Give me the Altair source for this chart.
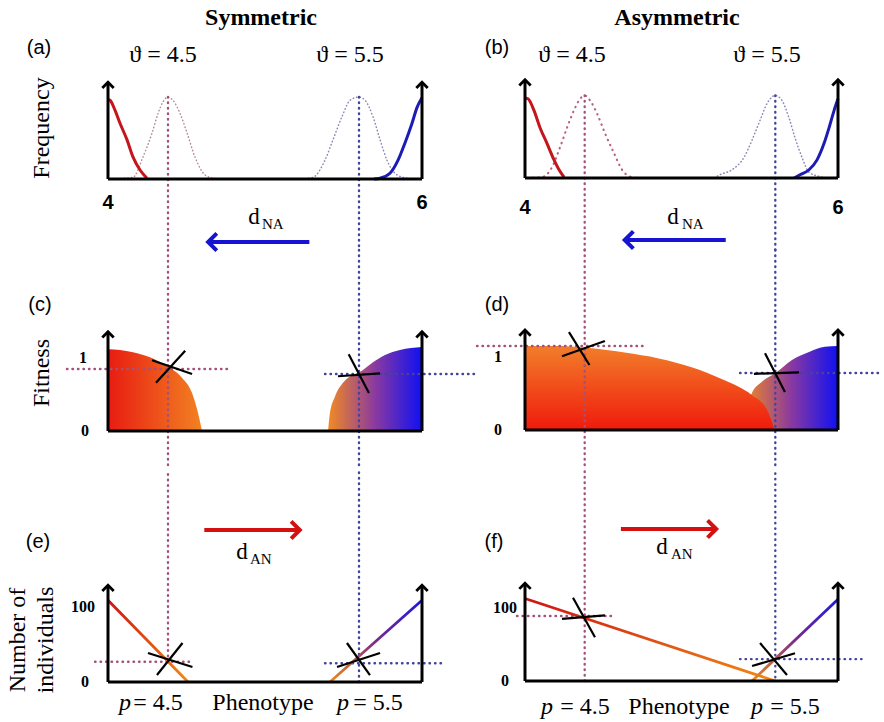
import altair as alt
import pandas as pd

# ---------------- data ----------------
PHENOTYPE_BREAKS = [4.0, 4.5, 5.5, 6.0]   # axis ends and the two optima
THETA = [4.5, 5.5]

# (a) symmetric - frequency distributions
a_red_x = [4.0, 4.017, 4.058, 4.10, 4.158, 4.208, 4.267, 4.325]
a_red_y = [0.97, 0.96, 0.84, 0.68, 0.48, 0.27, 0.11, 0.01]
a_blue_x = [5.62, 5.667, 5.746, 5.81, 5.865, 5.921, 5.96, 6.0]
a_blue_y = [0.0, 0.01, 0.07, 0.23, 0.44, 0.68, 0.87, 0.99]
a_opt_left_x = [4.02, 4.208, 4.292, 4.367, 4.417, 4.458, 4.5, 4.526, 4.563, 4.6, 4.641, 4.694, 4.736, 4.78]
a_opt_left_y = [0.0, 0.02, 0.27, 0.56, 0.80, 0.94, 1.0, 0.96, 0.80, 0.56, 0.27, 0.05, 0.01, 0.0]
a_opt_right_x = [5.2, 5.259, 5.322, 5.364, 5.411, 5.453, 5.5, 5.548, 5.611, 5.667, 5.722, 5.802, 5.881, 5.95]
a_opt_right_y = [0.0, 0.02, 0.23, 0.48, 0.76, 0.96, 1.0, 0.96, 0.76, 0.48, 0.23, 0.05, 0.01, 0.0]

# (b) asymmetric - frequency distributions
b_red_x = [4.0, 4.025, 4.075, 4.126, 4.184, 4.243, 4.285, 4.327]
b_red_y = [0.97, 0.96, 0.82, 0.61, 0.42, 0.22, 0.10, 0.01]
b_blue_x = [5.65, 5.697, 5.769, 5.833, 5.889, 5.929, 5.969, 6.0]
b_blue_y = [0.0, 0.04, 0.10, 0.22, 0.42, 0.61, 0.82, 0.96]
b_opt_left_x = [4.02, 4.142, 4.226, 4.293, 4.352, 4.41, 4.452, 4.5, 4.528, 4.565, 4.607, 4.654, 4.696, 4.748, 4.785]
b_opt_left_y = [0.0, 0.01, 0.13, 0.37, 0.61, 0.82, 0.94, 1.0, 0.94, 0.78, 0.54, 0.30, 0.10, 0.01, 0.0]
b_opt_right_x = [5.18, 5.21, 5.273, 5.336, 5.378, 5.42, 5.456, 5.5, 5.553, 5.609, 5.657, 5.713, 5.769, 5.848, 5.896]
b_opt_right_y = [0.0, 0.04, 0.10, 0.25, 0.46, 0.70, 0.90, 1.0, 0.94, 0.73, 0.49, 0.25, 0.07, 0.02, 0.0]

# (c) symmetric - fitness
c_left_x = [4.0, 4.1, 4.208, 4.35, 4.5, 4.573, 4.626, 4.657, 4.678]
c_left_y = [1.12, 1.11, 1.08, 1.01, 0.88, 0.73, 0.52, 0.25, 0.0]
c_right_x = [5.338, 5.348, 5.374, 5.416, 5.469, 5.5, 5.603, 5.706, 5.825, 6.0]
c_right_y = [0.0, 0.25, 0.47, 0.66, 0.77, 0.80, 0.93, 1.04, 1.11, 1.15]

# (d) asymmetric - fitness
d_left_x = [4.0, 4.25, 4.5, 4.71, 4.888, 5.061, 5.234, 5.376, 5.454, 5.497]
d_left_y = [1.15, 1.15, 1.13, 1.06, 0.98, 0.86, 0.68, 0.48, 0.29, 0.0]
d_right_x = [5.336, 5.341, 5.378, 5.43, 5.5, 5.633, 5.769, 5.896, 6.0]
d_right_y = [0.0, 0.23, 0.51, 0.66, 0.78, 0.96, 1.07, 1.14, 1.15]

# (e) symmetric - number of individuals
e_left_x = [4.0, 4.605]
e_left_y = [109, 0]
e_right_x = [5.348, 6.0]
e_right_y = [0, 109]

# (f) asymmetric - number of individuals
f_left_x = [4.0, 5.5]
f_left_y = [113, 0]
f_right_x = [5.378, 6.0]
f_right_y = [0, 112]

# cross marks: (x1, y1, x2, y2) for the two strokes of each "X"
c_cross = [(4.367, 0.97, 4.626, 0.78), (4.59, 1.10, 4.40, 0.66),
           (5.39, 0.75, 5.667, 0.79), (5.446, 1.05, 5.579, 0.52)]
d_cross = [(4.31, 1.01, 4.606, 1.22), (4.368, 1.34, 4.525, 0.89),
           (5.388, 0.77, 5.689, 0.79), (5.446, 1.05, 5.577, 0.52)]
e_cross = [(4.333, 38.7, 4.628, 20.0), (4.576, 52.0, 4.408, 9.3),
           (5.385, 20.0, 5.667, 38.7), (5.437, 52.0, 5.587, 9.3)]
f_cross = [(4.31, 85.0, 4.606, 90.0), (4.402, 114.0, 4.554, 60.0),
           (5.378, 20.5, 5.657, 38.0), (5.42, 52.0, 5.593, 8.2)]

# horizontal dotted guide lines: (x_start, x_end, level)
c_levels = [(3.658, 4.825, 0.85), (5.322, 6.444, 0.78)]
d_levels = [(3.598, 4.827, 1.15), (5.315, 6.335, 0.78)]
e_levels = [(3.892, 4.631, 27.0), (5.322, 6.19, 25.0)]
f_levels = [(3.933, 4.659, 89.0), (5.315, 6.207, 30.0)]

# tops of the arrowed axes (in each panel's units)
axis_top = {"a": 1.18, "b": 1.19, "c": 1.36, "d": 1.37, "e": 129, "f": 134}

# migration arrows (start, tip) in phenotype units
d_NA_arrow = (5.24, 4.71)
d_AN_arrow = (4.69, 5.19)

# ---------------- styling / layout ----------------
CELL_W = 442
ROW_H = [250, 220, 252]
X_RANGE = {0: [108, 168, 359, 422], 1: [83, 142.7, 333.3, 396]}
Y_SCALE = {
    (0, 0): ([0, 1], [179, 97]), (0, 1): ([0, 1], [178, 95.5]),
    (1, 0): ([0, 1], [181, 108]), (1, 1): ([0, 1], [180, 107]),
    (2, 0): ([0, 100], [212, 137]), (2, 1): ([0, 100], [211, 138]),
}
RED = "#c4161c"
BLUE = "#1c1cb4"
TH_L = "#a4527a"
TH_R = "#44449c"
SERIF = "Liberation Serif"
SANS = "Liberation Sans"
DOT = dict(strokeDash=[0.5, 5], strokeCap="round", strokeWidth=2.4)


def grad(stops, x1=0, y1=0, x2=1, y2=0):
    return alt.LinearGradient(
        gradient="linear",
        stops=[alt.GradientStop(color=c, offset=o) for o, c in stops],
        x1=x1, y1=y1, x2=x2, y2=y2)


G_RED_ORANGE = grad([(0, "#e81c12"), (1, "#f28222")])
G_ORANGE_BLUE = grad([(0, "#f28a22"), (0.5, "#8a3aa0"), (1, "#1010f2")])
G_ORANGE_RED_V = grad([(0, "#f27e2a"), (1, "#f01a0c")], x1=0, y1=0, x2=0, y2=1)
G_LINE_L = grad([(0, "#d01212"), (1, "#f08a14")], x1=0, y1=0, x2=1, y2=1)
G_LINE_R = grad([(0, "#f08a14"), (0.5, "#7a2a8a"), (1, "#1a1ae0")], x1=0, y1=1, x2=1, y2=0)


class Panel:
    def __init__(self, row, col):
        self.row, self.col = row, col
        self.h = ROW_H[row]
        self.xs = alt.Scale(domain=PHENOTYPE_BREAKS, range=X_RANGE[col], nice=False)
        dom, rng = Y_SCALE[(row, col)]
        self.ys = alt.Scale(domain=dom, range=rng, nice=False)
        self.layers = []

    def X(self, f="x"):
        return alt.X(f"{f}:Q", scale=self.xs, axis=None)

    def Y(self, f="y"):
        return alt.Y(f"{f}:Q", scale=self.ys, axis=None)

    def line(self, xv, yv, interp="monotone", **mk):
        df = pd.DataFrame({"x": xv, "y": yv})
        self.layers.append(alt.Chart(df).mark_line(interpolate=interp, **mk)
                           .encode(x=self.X(), y=self.Y()))

    def area(self, xv, yv, fill):
        df = pd.DataFrame({"x": xv, "y": yv})
        self.layers.append(alt.Chart(df).mark_area(interpolate="monotone", color=fill)
                           .encode(x=self.X(), y=self.Y()))

    def seg(self, x1, y1, x2, y2, **mk):
        df = pd.DataFrame({"x": [x1], "y": [y1], "x2": [x2], "y2": [y2]})
        self.layers.append(alt.Chart(df).mark_rule(**mk).encode(
            x=self.X(), y=self.Y(), x2=alt.X2("x2:Q"), y2=alt.Y2("y2:Q")))

    def vline(self, x, y_from=None, y_to=None, **mk):
        # vertical guide: from a data value (or the cell's top) down to a data value (or the cell's bottom)
        df = pd.DataFrame({"x": [x], "yv": [y_from if y_from is not None else y_to]})
        if y_from is not None:
            enc = dict(x=self.X(), y=self.Y("yv"), y2=alt.value(self.h))
        elif y_to is not None:
            enc = dict(x=self.X(), y=self.Y("yv"), y2=alt.value(0))
        else:
            enc = dict(x=self.X(), y=alt.value(0), y2=alt.value(self.h))
        self.layers.append(alt.Chart(df).mark_rule(**mk).encode(**enc))

    def cross(self, segs):
        for s in segs:
            self.seg(*s, color="black", strokeWidth=2.2)

    def levels(self, levs):
        for (xa, xb, lv), colr in zip(levs, [TH_L, TH_R]):
            df = pd.DataFrame({"x": [xa], "x2": [xb], "y": [lv]})
            self.layers.append(alt.Chart(df).mark_rule(color=colr, **DOT)
                               .encode(x=self.X(), x2=alt.X2("x2:Q"), y=self.Y()))

    def axes(self, top):
        self.seg(4.0, 0, 6.0, 0, color="black", strokeWidth=3)
        for xe in (4.0, 6.0):
            self.seg(xe, 0, xe, top, color="black", strokeWidth=3)
        df = pd.DataFrame({"x": [4.0, 6.0], "y": [top, top]})
        self.layers.append(alt.Chart(df).mark_point(
            shape="M-1,1L0,0L1,1", size=130, filled=False, color="black",
            strokeWidth=2.8, opacity=1).encode(x=self.X(), y=self.Y()))

    def text(self, t, x, y, size, font=SERIF, weight="normal", style="normal",
             angle=0, align="center", color="black"):
        df = pd.DataFrame({"t": [t], "xv": [x if not isinstance(x, tuple) else x[1]],
                           "yv": [y if not isinstance(y, tuple) else y[1]]})
        enc = dict(text="t:N")
        enc["x"] = self.X("xv") if isinstance(x, tuple) else alt.value(x)
        enc["y"] = self.Y("yv") if isinstance(y, tuple) else alt.value(y)
        self.layers.append(alt.Chart(df).mark_text(
            fontSize=size, font=font, fontWeight=weight, fontStyle=style, angle=angle,
            align=align, baseline="middle", color=color).encode(**enc))

    def arrow(self, start, tip, ypix, colr, shape):
        df = pd.DataFrame({"x": [start], "x2": [tip]})
        self.layers.append(alt.Chart(df).mark_rule(color=colr, strokeWidth=4)
                           .encode(x=self.X(), x2=alt.X2("x2:Q"), y=alt.value(ypix)))
        df2 = pd.DataFrame({"x": [tip]})
        self.layers.append(alt.Chart(df2).mark_point(
            shape=shape, size=300, filled=False, color=colr, strokeWidth=4, opacity=1)
            .encode(x=self.X(), y=alt.value(ypix)))

    def chart(self):
        return alt.layer(*self.layers).properties(width=CELL_W, height=self.h)


LEFT_HEAD = "M1,-1L0,0L1,1"
RIGHT_HEAD = "M-1,-1L0,0L-1,1"

# ---------- (a) ----------
pa = Panel(0, 0)
pa.text("Symmetric", 261, 18, 24, weight="bold")
pa.text("(a)", 39, 48, 20, font=SANS)
pa.text("\u03d1 = 4.5", 163, 55, 24)
pa.text("\u03d1 = 5.5", 350, 55, 24)
pa.text("Frequency", 42, 128, 24, angle=270)
pa.line(a_opt_left_x, a_opt_left_y, color="#b88c98", strokeWidth=1.5, strokeDash=[0.5, 3], strokeCap="round")
pa.line(a_opt_right_x, a_opt_right_y, color="#8a8ab4", strokeWidth=1.5, strokeDash=[0.5, 3], strokeCap="round")
pa.vline(THETA[0], y_from=1.0, color=TH_L, **DOT)
pa.vline(THETA[1], y_from=1.0, color=TH_R, **DOT)
pa.line(a_red_x, a_red_y, color=RED, strokeWidth=3)
pa.line(a_blue_x, a_blue_y, color=BLUE, strokeWidth=3)
pa.axes(axis_top["a"])
pa.text("4", ("x", 4.0), 203, 20, font=SANS, weight="bold")
pa.text("6", ("x", 6.0), 203, 20, font=SANS, weight="bold")
pa.text("d", 254, 217, 23)
pa.text("NA", 262, 224, 15, align="left")
pa.arrow(d_NA_arrow[0], d_NA_arrow[1], 242, "#1414d2", LEFT_HEAD)

# ---------- (b) ----------
pb = Panel(0, 1)
pb.text("Asymmetric", 235, 18, 24, weight="bold")
pb.text("(b)", 55, 48, 20, font=SANS)
pb.text("\u03d1 = 4.5", 130, 55, 24)
pb.text("\u03d1 = 5.5", 325, 55, 24)
pb.line(b_opt_left_x, b_opt_left_y, color="#b8607e", strokeWidth=2.1, strokeDash=[0.5, 5], strokeCap="round")
pb.line(b_opt_right_x, b_opt_right_y, color="#8a8ab4", strokeWidth=1.5, strokeDash=[0.5, 3], strokeCap="round")
pb.vline(THETA[0], y_from=1.0, color=TH_L, **DOT)
pb.vline(THETA[1], y_from=1.0, color=TH_R, **DOT)
pb.line(b_red_x, b_red_y, color=RED, strokeWidth=3)
pb.line(b_blue_x, b_blue_y, color=BLUE, strokeWidth=3)
pb.axes(axis_top["b"])
pb.text("4", ("x", 4.0), 208, 20, font=SANS, weight="bold")
pb.text("6", ("x", 6.0), 208, 20, font=SANS, weight="bold")
pb.text("d", 231, 217, 23)
pb.text("NA", 240, 224, 15, align="left")
pb.arrow(d_NA_arrow[0], d_NA_arrow[1], 240, "#1414d2", LEFT_HEAD)

# ---------- (c) ----------
pc = Panel(1, 0)
pc.text("(c)", 40, 55, 20, font=SANS)
pc.text("Fitness", 42, 123, 24, angle=270)
pc.area(c_left_x, c_left_y, G_RED_ORANGE)
pc.area(c_right_x, c_right_y, G_ORANGE_BLUE)
pc.vline(THETA[0], color=TH_L, **DOT)
pc.vline(THETA[1], color=TH_R, **DOT)
pc.levels(c_levels)
pc.cross(c_cross)
pc.axes(axis_top["c"])
pc.text("1", 83, ("y", 1.0), 16, weight="bold")
pc.text("0", 85, ("y", 0.0), 16, weight="bold")

# ---------- (d) ----------
pd_ = Panel(1, 1)
pd_.text("(d)", 55, 55, 20, font=SANS)
pd_.area(d_right_x, d_right_y, G_ORANGE_BLUE)
pd_.area(d_left_x, d_left_y, G_ORANGE_RED_V)
pd_.vline(THETA[0], color=TH_L, **DOT)
pd_.vline(THETA[1], color=TH_R, **DOT)
pd_.levels(d_levels)
pd_.cross(d_cross)
pd_.axes(axis_top["d"])
pd_.text("1", 56, ("y", 1.0), 16, weight="bold")
pd_.text("0", 56, ("y", 0.0), 16, weight="bold")

# ---------- (e) ----------
pe = Panel(2, 0)
pe.arrow(d_AN_arrow[0], d_AN_arrow[1], 60, "#d41010", RIGHT_HEAD)
pe.text("d", 242, 82, 23)
pe.text("AN", 250, 89, 15, align="left")
pe.text("(e)", 38, 72, 20, font=SANS)
pe.text("Number of", 18, 170, 24, angle=270)
pe.text("individuals", 46, 170, 24, angle=270)
pe.vline(THETA[0], y_to=27.0, color=TH_L, **DOT)
pe.vline(THETA[1], y_to=0.0, color=TH_R, **DOT)
pe.levels(e_levels)
pe.line(e_left_x, e_left_y, interp="linear", stroke=G_LINE_L, strokeWidth=2.8)
pe.line(e_right_x, e_right_y, interp="linear", stroke=G_LINE_R, strokeWidth=2.8)
pe.cross(e_cross)
pe.axes(axis_top["e"])
pe.text("100", 83, ("y", 100), 16, weight="bold")
pe.text("0", 85, ("y", 0), 16, weight="bold")
pe.text("p", 125, 233, 24, style="italic")
pe.text("= 4.5", 158, 233, 24)
pe.text("Phenotype", 263, 233, 24)
pe.text("p", 343, 233, 24, style="italic")
pe.text("= 5.5", 378, 233, 24)

# ---------- (f) ----------
pf = Panel(2, 1)
pf.arrow(d_AN_arrow[0], d_AN_arrow[1], 59, "#d41010", RIGHT_HEAD)
pf.text("d", 220, 77, 23)
pf.text("AN", 229, 84, 15, align="left")
pf.text("(f)", 52, 72, 20, font=SANS)
pf.vline(THETA[0], y_to=0.0, color=TH_L, **DOT)
pf.vline(THETA[1], y_to=5.0, color=TH_R, **DOT)
pf.levels(f_levels)
pf.line(f_left_x, f_left_y, interp="linear", stroke=G_LINE_L, strokeWidth=2.8)
pf.line(f_right_x, f_right_y, interp="linear", stroke=G_LINE_R, strokeWidth=2.8)
pf.cross(f_cross)
pf.axes(axis_top["f"])
pf.text("100", 63, ("y", 100), 16, weight="bold")
pf.text("0", 63, ("y", 0), 16, weight="bold")
pf.text("p", 105, 237, 24, style="italic")
pf.text("= 4.5", 143, 237, 24)
pf.text("Phenotype", 237, 237, 24)
pf.text("p", 315, 237, 24, style="italic")
pf.text("= 5.5", 353, 237, 24)

chart = (alt.concat(pa.chart(), pb.chart(), pc.chart(), pd_.chart(), pe.chart(), pf.chart(),
                    columns=2, spacing=0, bounds="flush")
         .properties(padding=0, background="white")
         .configure_view(stroke=None))

chart.save("out.html", embed_options={"renderer": "svg", "actions": False})
